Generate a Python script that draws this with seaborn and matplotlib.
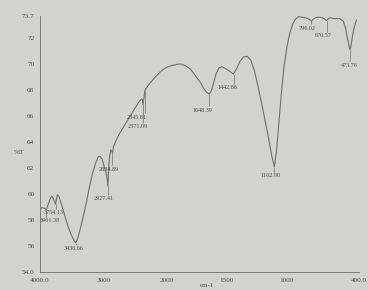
import numpy as np
import pandas as pd
import seaborn as sns
import matplotlib
matplotlib.use('Agg')
import matplotlib.pyplot as plt

wavenumber = [4000, 3960, 3930, 3901, 3870, 3840, 3811, 3785, 3754, 3740, 3725, 3700,
              3660, 3600, 3550, 3500, 3460, 3437, 3410, 3370, 3320, 3270, 3220, 3170,
              3120, 3080, 3050, 3020, 2990, 2960, 2940, 2927, 2915, 2900, 2880, 2855,
              2835, 2800, 2750, 2700, 2650, 2600, 2550, 2500, 2450, 2410, 2385, 2371,
              2360, 2345, 2330, 2300, 2250, 2200, 2150, 2100, 2050, 2000,
              1950, 1900, 1875, 1840, 1800, 1760, 1720, 1690, 1665, 1648, 1630, 1610,
              1590, 1565, 1540, 1500, 1470, 1442, 1420, 1390, 1360, 1330, 1300, 1270,
              1240, 1210, 1180, 1150, 1125, 1103, 1085, 1065, 1045, 1025, 1000, 975,
              950, 925, 900, 870, 840, 815, 796, 775, 750, 725, 700, 685, 670, 655,
              640, 600, 560, 530, 510, 495, 480, 473, 465, 450, 435, 420]
transmittance = [58.9, 58.95, 58.9, 58.8, 59.2, 59.6, 59.85, 59.6, 59.2, 59.6, 59.95, 59.8,
                 59.2, 58.2, 57.4, 56.8, 56.4, 56.25, 56.5, 57.2, 58.2, 59.3, 60.5, 61.6,
                 62.4, 62.85, 62.9, 62.7, 62.2, 61.7, 61.2, 60.6, 62.0, 62.9, 63.4, 63.2,
                 63.7, 64.1, 64.6, 65.0, 65.4, 65.8, 66.2, 66.6, 67.0, 67.25, 67.3, 66.9,
                 67.3, 67.9, 68.1, 68.3, 68.6, 68.9, 69.15, 69.4, 69.6, 69.75,
                 69.9, 70.0, 70.0, 69.85, 69.6, 69.1, 68.6, 68.1, 67.8, 67.7, 67.9, 68.5,
                 69.2, 69.7, 69.8, 69.6, 69.4, 69.25, 69.6, 70.2, 70.55, 70.6, 70.3, 69.5,
                 68.3, 67.0, 65.6, 64.2, 62.9, 62.1, 63.4, 65.6, 67.8, 69.7, 71.3, 72.4,
                 73.1, 73.5, 73.65, 73.6, 73.55, 73.45, 73.3, 73.5, 73.6, 73.6, 73.55, 73.45,
                 73.35, 73.5, 73.55, 73.5, 73.5, 73.3, 72.7, 71.9, 71.3, 71.1, 71.5, 72.4,
                 73.0, 73.4]

# peak labels: text, peak position, peak %T, label position
peak_text = ['3901.38', '3754.13', '3436.66', '2927.41', '2834.89', '2345.81', '2371.09',
             '1648.39', '1442.86', '1102.90', '796.02', '670.57', '473.76']
peak_wn = [3901, 3754, 3437, 2927, 2855, 2345, 2371, 1648, 1442, 1103, 796, 670, 473]
peak_t = [58.8, 59.2, 56.25, 60.6, 63.2, 67.9, 66.9, 67.7, 69.25, 62.1, 73.3, 73.35, 71.1]
label_wn = [3842, 3780, 3465, 2992, 2915, 2472, 2457, 1700, 1492, 1133, 834, 700, 483]
label_t = [57.95, 58.55, 55.8, 59.65, 61.9, 65.9, 65.2, 66.45, 68.2, 61.4, 72.75, 72.2, 69.9]

xticks = [4000, 3000, 2000, 1500, 1000, 400]
xticklabels = ['4000.0', '3000', '2000', '1500', '1000', '400.0']
yticks = [54, 56, 58, 60, 62, 64, 66, 68, 70, 72, 73.7]
yticklabels = ['54.0', '56', '58', '60', '62', '64', '66', '68', '70', '72', '73.7']

df = pd.DataFrame({'wn': wavenumber, 'T': transmittance})

bg = '#d2d2cf'
ink = '#4a4a48'
sns.set_style('white')
plt.rcParams['font.family'] = ['Liberation Serif', 'DejaVu Serif']

fig = plt.figure(figsize=(3.68, 2.90), dpi=100, facecolor=bg)
ax = fig.add_axes([40 / 368, 18 / 290, 319 / 368, 256 / 290])
ax.set_facecolor(bg)


# spectrometer chart: scale expands below 2000 cm-1
def fwd(x):
    x = np.asarray(x, dtype=float)
    return np.where(x >= 2000, x, 2000 - 1.9 * (2000 - x))


def inv(y):
    y = np.asarray(y, dtype=float)
    return np.where(y >= 2000, y, 2000 - (2000 - y) / 1.9)


ax.set_xscale('function', functions=(fwd, inv))
sns.lineplot(data=df, x='wn', y='T', ax=ax, color='#6e6e6c', lw=0.8,
             estimator=None, sort=False)

for txt, pw, pt, lw_, lt in zip(peak_text, peak_wn, peak_t, label_wn, label_t):
    ax.vlines(pw, lt + 0.3, pt, color='#6e6e6c', lw=0.5)
    ax.text(lw_, lt, txt, fontsize=4.4, color=ink, ha='center', va='center')

ax.set_xlim(4000, 400)
ax.set_ylim(54, 73.7)
ax.set_xticks(xticks)
ax.set_xticklabels(xticklabels)
ax.set_yticks(yticks)
ax.set_yticklabels(yticklabels)
ax.minorticks_off()
ax.tick_params(labelsize=5.2, colors=ink, length=2, width=0.5, pad=2)
ax.set_xlabel('')
ax.set_ylabel('')
for s in ['top', 'right']:
    ax.spines[s].set_visible(False)
for s in ['left', 'bottom']:
    ax.spines[s].set_color('#6a6a68')
    ax.spines[s].set_linewidth(0.6)

fig.text(14 / 368, 1 - 152 / 290, '%T', fontsize=5.2, color=ink, va='center')
fig.text(200 / 368, 0.008, 'cm-1', fontsize=5, color=ink, va='bottom')

plt.savefig('out.png', dpi=100, facecolor=bg)
